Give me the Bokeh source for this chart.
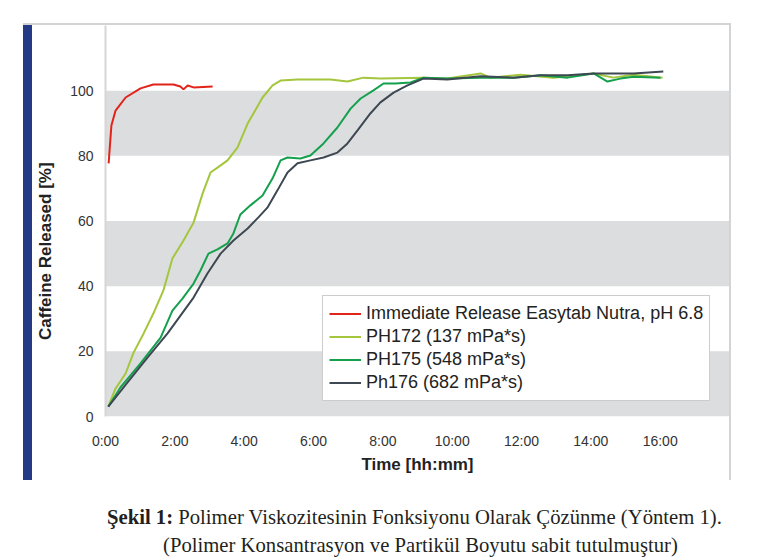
from bokeh.plotting import figure
from bokeh.models import BoxAnnotation, FixedTicker, Legend, LegendItem, Div
from bokeh.layouts import column, row
from bokeh.embed import file_html
from bokeh.resources import INLINE

# ---- data (time in hours, release in %) ----
ir_t = [0.09, 0.17, 0.29, 0.58, 1.01, 1.38, 1.96, 2.16, 2.25, 2.37, 2.54, 3.09]
ir_y = [77.7, 89.3, 93.9, 97.9, 100.7, 101.9, 101.9, 101.3, 100.4, 101.6, 101.0, 101.3]

ph172_t = [0.08, 0.29, 0.58, 0.81, 1.10, 1.38, 1.67, 1.93, 2.25, 2.54, 2.80, 3.03, 3.23,
           3.52, 3.81, 4.10, 4.53, 4.82, 5.05, 5.54, 6.49, 6.98, 7.44, 7.93, 9.17, 9.86,
           10.82, 11.10, 11.97, 12.92, 14.08, 14.65, 15.23, 16.07]
ph172_y = [3.0, 8.6, 13.2, 19.6, 25.5, 31.6, 38.7, 48.5, 54.0, 59.5, 68.4, 74.9, 76.4,
           78.6, 82.6, 89.9, 97.9, 101.6, 103.1, 103.4, 103.4, 102.8, 104.0, 103.7, 104.0, 103.7,
           105.3, 104.0, 104.9, 104.0, 105.3, 104.0, 104.9, 104.0]

ph175_t = [0.08, 0.43, 1.01, 1.59, 1.93, 2.22, 2.54, 2.74, 2.97, 3.23, 3.52, 3.69, 3.89,
           4.18, 4.53, 4.82, 5.05, 5.25, 5.62, 5.91, 6.29, 6.69, 7.07, 7.36, 7.73, 8.02,
           8.36, 8.80, 9.17, 9.86, 10.82, 11.77, 12.55, 13.33, 14.08, 14.48, 14.85, 15.23, 16.01]
ph175_y = [3.0, 8.9, 16.3, 24.2, 32.5, 36.2, 40.8, 44.8, 50.0, 51.3, 53.1, 56.2, 62.0,
           64.8, 67.8, 73.1, 78.6, 79.5, 79.2, 80.1, 83.8, 88.7, 94.5, 97.6, 100.1, 102.2,
           102.2, 102.5, 104.0, 103.7, 104.0, 104.0, 104.7, 104.0, 105.3, 102.8, 103.7, 104.3, 104.0]

ph176_t = [0.08, 0.63, 1.21, 1.79, 2.54, 2.94, 3.32, 3.69, 4.10, 4.41, 4.67, 4.96, 5.25,
           5.54, 5.91, 6.29, 6.69, 6.98, 7.27, 7.64, 7.93, 8.31, 8.71, 9.17, 9.86, 10.82,
           11.77, 12.55, 13.33, 14.08, 14.65, 15.23, 16.09]
ph176_y = [3.0, 10.4, 18.1, 25.5, 36.5, 43.9, 50.0, 54.0, 57.7, 61.1, 64.1, 69.4, 74.9,
           77.7, 78.6, 79.5, 81.0, 83.8, 87.8, 93.0, 96.4, 99.4, 101.6, 103.7, 103.4, 104.4,
           104.0, 104.7, 104.7, 105.3, 105.3, 105.3, 105.9]

series_names = ["Immediate Release Easytab Nutra, pH 6.8", "PH172 (137 mPa*s)",
                "PH175 (548 mPa*s)", "Ph176 (682 mPa*s)"]
series_colors = ["#e2231a", "#a3c63c", "#15a04e", "#3d4852"]

x_ticks = [0, 2, 4, 6, 8, 10, 12, 14, 16]
x_tick_labels = ["0:00", "2:00", "4:00", "6:00", "8:00", "10:00", "12:00", "14:00", "16:00"]
y_ticks = [0, 20, 40, 60, 80, 100]
bands = [(0, 20), (40, 60), (80, 100)]

y_title = "Caffeine Released [%]"
x_title = "Time [hh:mm]"
caption_bold = "Şekil 1:"
caption_line1 = "Polimer Viskozitesinin Fonksiyonu Olarak Çözünme (Yöntem 1)."
caption_line2 = "(Polimer Konsantrasyon ve Partikül Boyutu sabit tutulmuştur)"

PH = 455
p = figure(width=669, height=PH, output_backend="svg", toolbar_location=None,
           x_range=(0, 18), y_range=(0, 120),
           min_border_left=45, min_border_right=0, min_border_top=0, min_border_bottom=64,
           margin=0)
p.outline_line_color = None
p.background_fill_color = "white"
p.border_fill_color = "white"
p.xgrid.visible = False
p.ygrid.visible = False

for b0, b1 in bands:
    p.add_layout(BoxAnnotation(bottom=b0, top=b1, fill_color="#dcdddf", fill_alpha=1.0,
                               line_color=None, level="underlay"))

renderers = []
for (tt, yy), c in zip([(ir_t, ir_y), (ph172_t, ph172_y), (ph175_t, ph175_y), (ph176_t, ph176_y)],
                       series_colors):
    r = p.line(tt, yy, line_color=c, line_width=2)
    renderers.append(r)

# axes
p.xaxis.ticker = FixedTicker(ticks=x_ticks)
p.xaxis.major_label_overrides = {t: l for t, l in zip(x_ticks, x_tick_labels)}
p.yaxis.ticker = FixedTicker(ticks=y_ticks)
for ax in (p.xaxis[0], p.yaxis[0]):
    ax.major_tick_line_color = None
    ax.minor_tick_line_color = None
    ax.major_tick_out = 0
    ax.major_tick_in = 0
    ax.minor_tick_out = 0
    ax.major_label_text_font = "Liberation Sans"
    ax.major_label_text_font_size = "14px"
    ax.major_label_text_color = "#333333"
p.xaxis.axis_line_color = None
p.yaxis.axis_line_color = "#d6d6d6"
p.yaxis.axis_line_width = 2
p.yaxis.major_label_standoff = 12
p.xaxis.major_label_standoff = 16
p.xaxis.axis_label = x_title
p.xaxis.axis_label_text_font = "Liberation Sans"
p.xaxis.axis_label_text_font_size = "17px"
p.xaxis.axis_label_text_font_style = "bold"
p.xaxis.axis_label_text_color = "#222222"
p.xaxis.axis_label_standoff = 3

# legend
items = [LegendItem(label=n, renderers=[r]) for n, r in zip(series_names, renderers)]
legend = Legend(items=items, location=(217, 15), padding=6, margin=0, spacing=0,
                glyph_width=32, glyph_height=23, label_height=23, label_standoff=5,
                label_text_font="Liberation Sans", label_text_font_size="18px",
                label_text_color="#222222",
                border_line_color="#9a9a9a", border_line_width=1,
                background_fill_color="white", background_fill_alpha=1.0)
p.add_layout(legend, "center")

# frame decorations: top grey rule, blue bar at left, grey rule at right
top_rule = Div(text="", width=708, height=2, margin=(23, 0, 0, 23),
               styles={"background-color": "#d4d4d4"})
blue_bar = Div(text="", width=9, height=PH, margin=0,
               styles={"background-color": "#253a86"})
ytitle_html = (
    f'<div style="width:28px; height:{PH}px; box-sizing:border-box; padding-top:140px; '
    'writing-mode:vertical-rl; transform:rotate(180deg); line-height:28px; '
    'font-family:\'Liberation Sans\', sans-serif; font-size:17px; font-weight:bold; '
    f'color:#222222; white-space:nowrap;">{y_title}</div>'
)
ytitle_div = Div(text=ytitle_html, width=28, height=PH, margin=0)
right_rule = Div(text="", width=2, height=PH, margin=0,
                 styles={"background-color": "#d4d4d4"})
middle = row(blue_bar, ytitle_div, p, right_rule, margin=(0, 0, 0, 23), spacing=0)

caption_html = (
    '<div style="font-family:\'Liberation Serif\', serif; font-size:20.7px; '
    'line-height:28px; color:#231f20; white-space:nowrap;">'
    f'<div style="padding-left:107px;"><b>{caption_bold}</b> {caption_line1}</div>'
    f'<div style="padding-left:163px;">{caption_line2}</div></div>'
)
caption = Div(text=caption_html, width=771, height=56, margin=(23, 0, 0, 0))

layout = column(top_rule, middle, caption, spacing=0, margin=0)

open("out.html", "w").write(file_html(layout, INLINE))
